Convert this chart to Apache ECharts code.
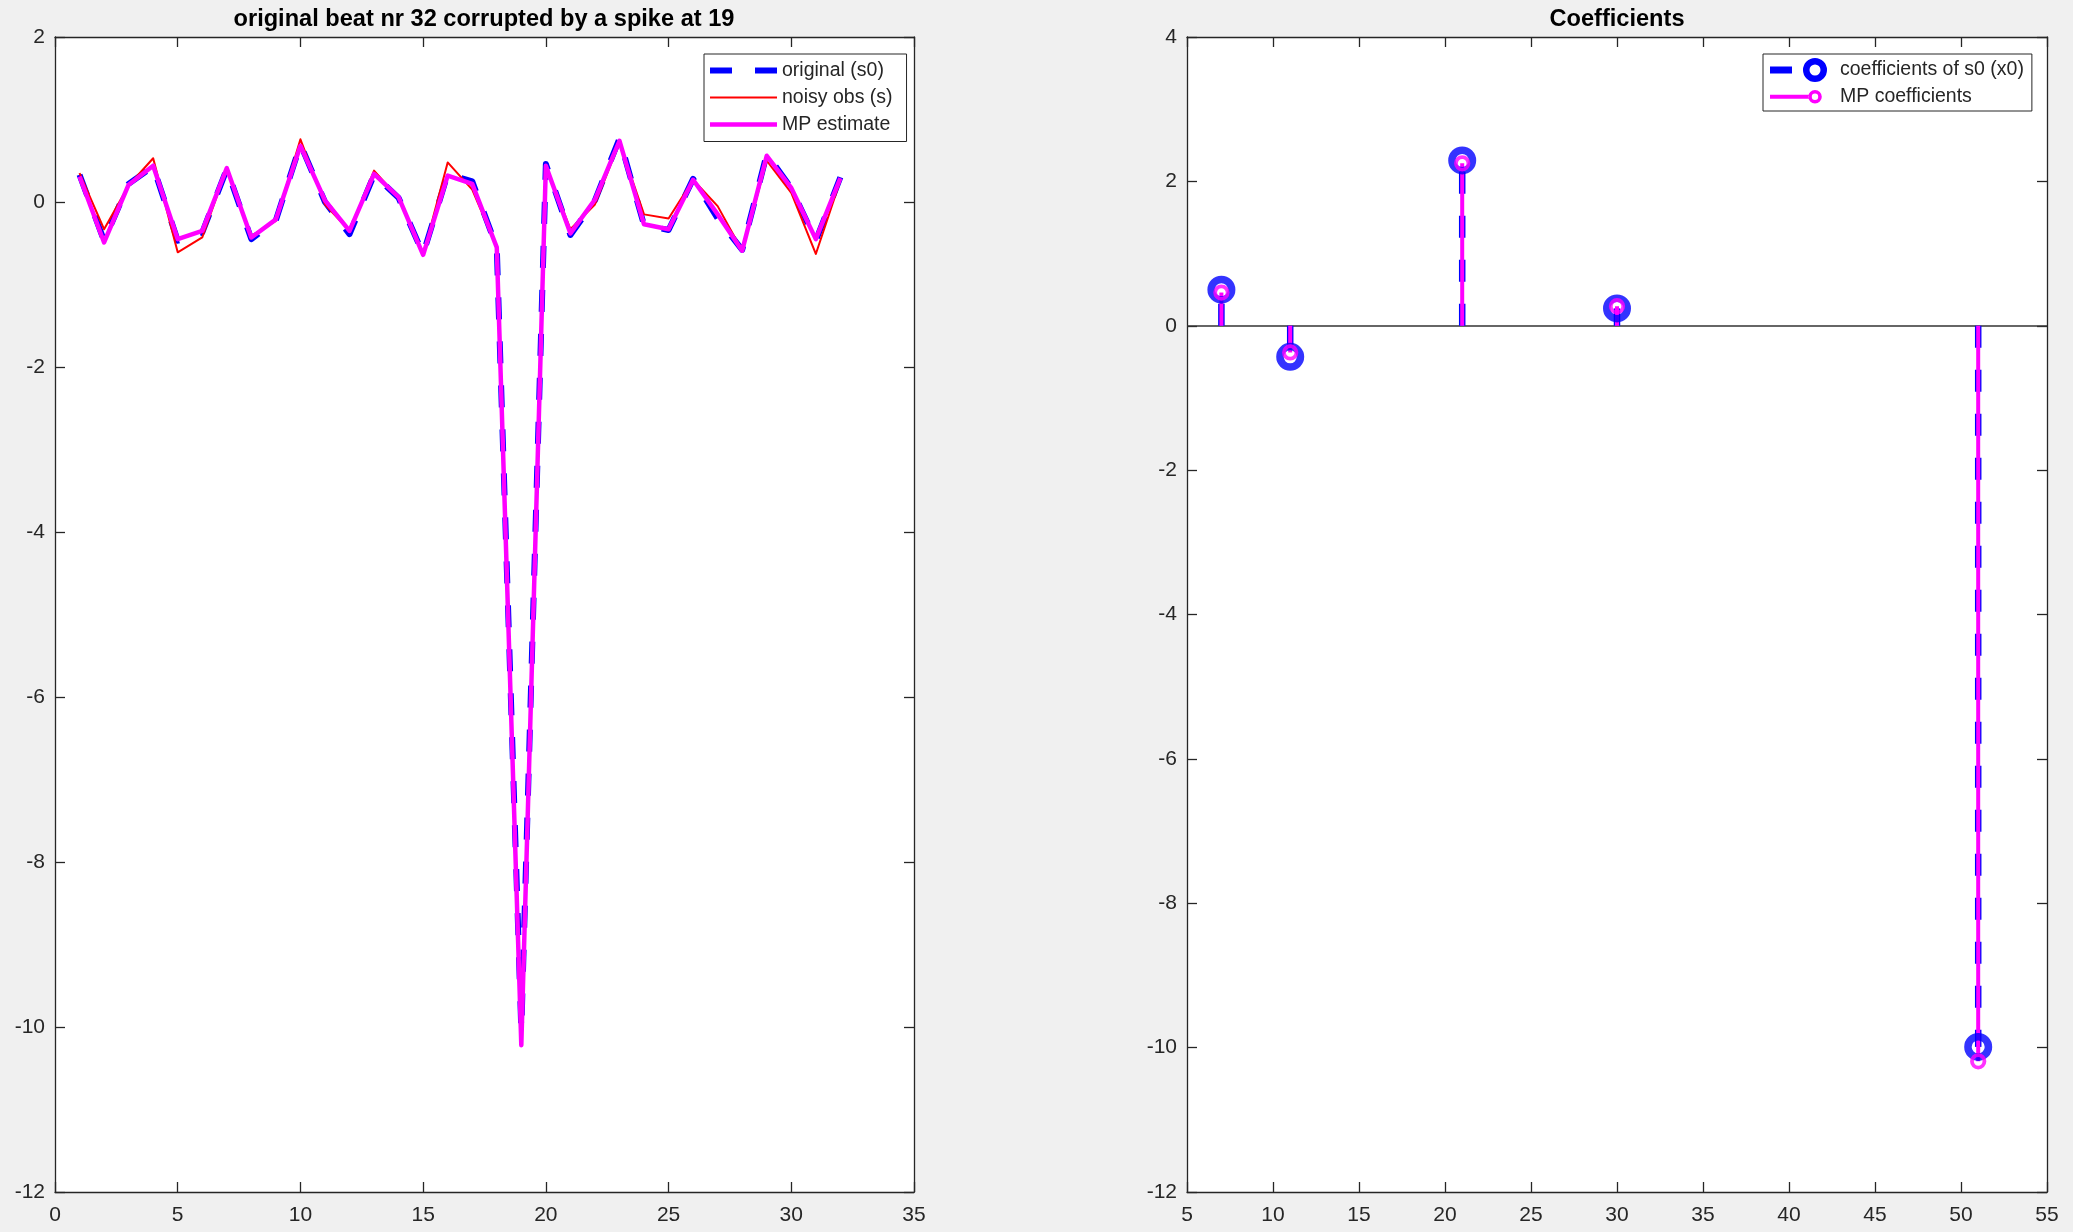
<!DOCTYPE html>
<html>
<head>
<meta charset="utf-8">
<script src="https://cdn.jsdelivr.net/npm/echarts@6/dist/echarts.min.js"></script>
<style>
  html, body { margin: 0; padding: 0; background: #f0f0f0; }
  #chart { width: 2073px; height: 1232px; }
</style>
</head>
<body>
<div id="chart"></div>
<script>
// ---- Beat samples (left panel) ----
const sampleIdx = [1, 2, 3, 4, 5, 6, 7, 8, 9, 10, 11, 12, 13, 14, 15, 16,
                   17, 18, 19, 20, 21, 22, 23, 24, 25, 26, 27, 28, 29, 30, 31, 32];
const originalBeat = [0.33, -0.47, 0.22, 0.43, -0.47, -0.37, 0.40, -0.45, -0.22, 0.70, 0.00, -0.39,
                      0.33, 0.05, -0.63, 0.34, 0.25, -0.55, -10.04, 0.46, -0.40, 0.02, 0.77, -0.28,
                      -0.34, 0.28, -0.20, -0.58, 0.58, 0.17, -0.47, 0.30];
const noisyBeat = [0.35, -0.33, 0.20, 0.53, -0.61, -0.43, 0.41, -0.41, -0.23, 0.76, -0.03, -0.35,
                   0.38, 0.05, -0.64, 0.48, 0.15, -0.55, -10.15, 0.44, -0.33, -0.03, 0.72, -0.15,
                   -0.20, 0.27, -0.05, -0.59, 0.50, 0.11, -0.63, 0.26];
const mpBeat = [0.31, -0.49, 0.21, 0.44, -0.45, -0.35, 0.41, -0.43, -0.21, 0.68, 0.02, -0.35,
                0.34, 0.06, -0.64, 0.32, 0.22, -0.55, -10.22, 0.44, -0.38, 0.03, 0.74, -0.27,
                -0.33, 0.27, -0.15, -0.59, 0.56, 0.17, -0.45, 0.29];

// ---- Sparse coefficients (right panel) ----
const atomIdx = [7, 11, 21, 30, 51];
const coefTrue = [0.50, -0.43, 2.29, 0.24, -9.99];
const coefMP = [0.46, -0.37, 2.25, 0.27, -10.19];

// ---- Axis ranges [min, max, step] ----
const beatX = [0, 35, 5];
const beatY = [-12, 2, 2];
const coefXRange = [5, 55, 5];
const coefYRange = [-12, 4, 2];

const FONT = '"Liberation Sans", Arial, Helvetica, sans-serif';
const AX = '#262626';
const BLUE = '#0000ff', RED = '#ff0000', MAGENTA = '#ff00ff';

function pairs(xs, ys) { return xs.map((x, i) => [x, ys[i]]); }

// Value axis with inward ticks; the unlabelled copies close the box on top/right
function axis(gridIndex, position, range, labels, margin) {
  return {
    type: 'value', gridIndex, position,
    min: range[0], max: range[1], interval: range[2],
    axisLine: { show: true, onZero: false, lineStyle: { color: AX, width: 1.3 } },
    axisTick: { show: true, inside: true, length: 10, lineStyle: { color: AX, width: 1.3 } },
    axisLabel: { show: labels, color: AX, fontSize: 21, fontFamily: FONT, margin },
    splitLine: { show: false }
  };
}

// Stem: segment from the zero baseline up/down to the value
function stem(color, width, dash) {
  return function (params, api) {
    const x = api.value(0);
    const a = api.coord([x, 0]);
    const b = api.coord([x, api.value(1)]);
    return {
      type: 'line',
      shape: { x1: a[0], y1: a[1], x2: b[0], y2: b[1] },
      style: { stroke: color, lineWidth: width, lineDash: dash, fill: null }
    };
  };
}

// Legend glyphs (the corner points only fix the glyph's box)
const boxL = ' M0,0L0,0z M67,14L67,14z';
const iconOrig = 'path://M0,4h22v6h-22z M45,4h22v6h-22z' + boxL;
const iconNoisy = 'path://M0,6h67v2h-67z' + boxL;
const iconMP = 'path://M0,4.75h67v4.5h-67z' + boxL;
const boxR = ' M0,0L0,0z M65,24L65,24z';
const iconCoefTrue = 'path://M0,8.5h22v7h-22z ' +
  'M33,12 A12,12 0 1,0 57,12 A12,12 0 1,0 33,12 Z ' +
  'M39.5,12 A5.5,5.5 0 1,1 50.5,12 A5.5,5.5 0 1,1 39.5,12 Z' + boxR;
const iconCoefMP = 'path://M0,10h38.5v4h-38.5z ' +
  'M38.2,12 A6.8,6.8 0 1,0 51.8,12 A6.8,6.8 0 1,0 38.2,12 Z ' +
  'M41.8,12 A3.2,3.2 0 1,1 48.2,12 A3.2,3.2 0 1,1 41.8,12 Z' + boxR;

const legendBase = {
  orient: 'vertical', backgroundColor: '#fff', borderColor: AX, borderWidth: 1,
  borderRadius: 0, selectedMode: false, symbolKeepAspect: true,
  textStyle: { fontSize: 19.5, color: AX, fontFamily: FONT }
};

const titleStyle = { fontSize: 23.6, fontWeight: 'bold', color: '#000', fontFamily: FONT };

const option = {
  backgroundColor: '#f0f0f0',
  animation: false,
  title: [
    { text: 'original beat nr 32 corrupted by a spike at 19', left: 484, top: 7, textAlign: 'center', padding: 0,
      textStyle: titleStyle },
    { text: 'Coefficients', left: 1617, top: 7, textAlign: 'center', padding: 0,
      textStyle: titleStyle }
  ],
  grid: [
    { left: 55, top: 37, width: 859, height: 1155, show: true, backgroundColor: '#fff', borderWidth: 0 },
    { left: 1187, top: 37, width: 860, height: 1155, show: true, backgroundColor: '#fff', borderWidth: 0 }
  ],
  xAxis: [
    axis(0, 'bottom', beatX, true, 13),
    axis(0, 'top', beatX, false, 13),
    axis(1, 'bottom', coefXRange, true, 13),
    axis(1, 'top', coefXRange, false, 13)
  ],
  yAxis: [
    axis(0, 'left', beatY, true, 10),
    axis(0, 'right', beatY, false, 10),
    axis(1, 'left', coefYRange, true, 10),
    axis(1, 'right', coefYRange, false, 10)
  ],
  legend: [
    Object.assign({}, legendBase, {
      left: 704, top: 54, itemWidth: 67, itemHeight: 14, itemGap: 7, padding: [6.5, 14, 7, 6],
      data: [
        { name: 'original (s0)', icon: iconOrig, itemStyle: { color: BLUE, borderWidth: 0 } },
        { name: 'noisy obs (s)', icon: iconNoisy, itemStyle: { color: RED, borderWidth: 0 } },
        { name: 'MP estimate', icon: iconMP, itemStyle: { color: MAGENTA, borderWidth: 0 } }
      ]
    }),
    Object.assign({}, legendBase, {
      left: 1763, top: 54, itemWidth: 65, itemHeight: 24, itemGap: 2.7, padding: [4, 8, 2.3, 7],
      data: [
        { name: 'coefficients of s0 (x0)', icon: iconCoefTrue, itemStyle: { color: BLUE, borderWidth: 0 } },
        { name: 'MP coefficients', icon: iconCoefMP, itemStyle: { color: MAGENTA, borderWidth: 0 } }
      ]
    })
  ],
  series: [
    { name: 'original (s0)', type: 'line', xAxisIndex: 0, yAxisIndex: 0, silent: true,
      data: pairs(sampleIdx, originalBeat), symbol: 'none', itemStyle: { color: BLUE },
      lineStyle: { color: BLUE, width: 6, type: [22, 22], cap: 'butt', join: 'round' } },
    { name: 'noisy obs (s)', type: 'line', xAxisIndex: 0, yAxisIndex: 0, silent: true,
      data: pairs(sampleIdx, noisyBeat), symbol: 'none', itemStyle: { color: RED },
      lineStyle: { color: RED, width: 2, join: 'round' } },
    { name: 'MP estimate', type: 'line', xAxisIndex: 0, yAxisIndex: 0, silent: true,
      data: pairs(sampleIdx, mpBeat), symbol: 'none', itemStyle: { color: MAGENTA },
      lineStyle: { color: MAGENTA, width: 4.5, join: 'round' } },

    { name: 'coefficients of s0 (x0)', type: 'custom', xAxisIndex: 2, yAxisIndex: 2, silent: true,
      data: pairs(atomIdx, coefTrue), encode: { x: 0, y: 1 },
      renderItem: stem(BLUE, 6.5, [22, 22]),
      markLine: { silent: true, symbol: 'none', z: 1, label: { show: false },
        lineStyle: { color: '#333', width: 1.5, type: 'solid' }, data: [{ yAxis: 0 }] } },
    { name: 'coefficients of s0 (x0)', type: 'scatter', xAxisIndex: 2, yAxisIndex: 2, silent: true,
      data: pairs(atomIdx, coefTrue), symbol: 'circle', symbolSize: 20.5,
      itemStyle: { color: 'rgba(0,0,0,0)', borderColor: BLUE, borderWidth: 7.5 } },
    { name: 'MP coefficients', type: 'custom', xAxisIndex: 2, yAxisIndex: 2, silent: true,
      data: pairs(atomIdx, coefMP), encode: { x: 0, y: 1 },
      renderItem: stem(MAGENTA, 4, null) },
    { name: 'MP coefficients', type: 'scatter', xAxisIndex: 2, yAxisIndex: 2, silent: true,
      data: pairs(atomIdx, coefMP), symbol: 'circle', symbolSize: 12.5,
      itemStyle: { color: 'rgba(0,0,0,0)', borderColor: MAGENTA, borderWidth: 3.8 } }
  ]
};

echarts.init(document.getElementById('chart'), null, { renderer: 'canvas' }).setOption(option);
</script>
</body>
</html>
